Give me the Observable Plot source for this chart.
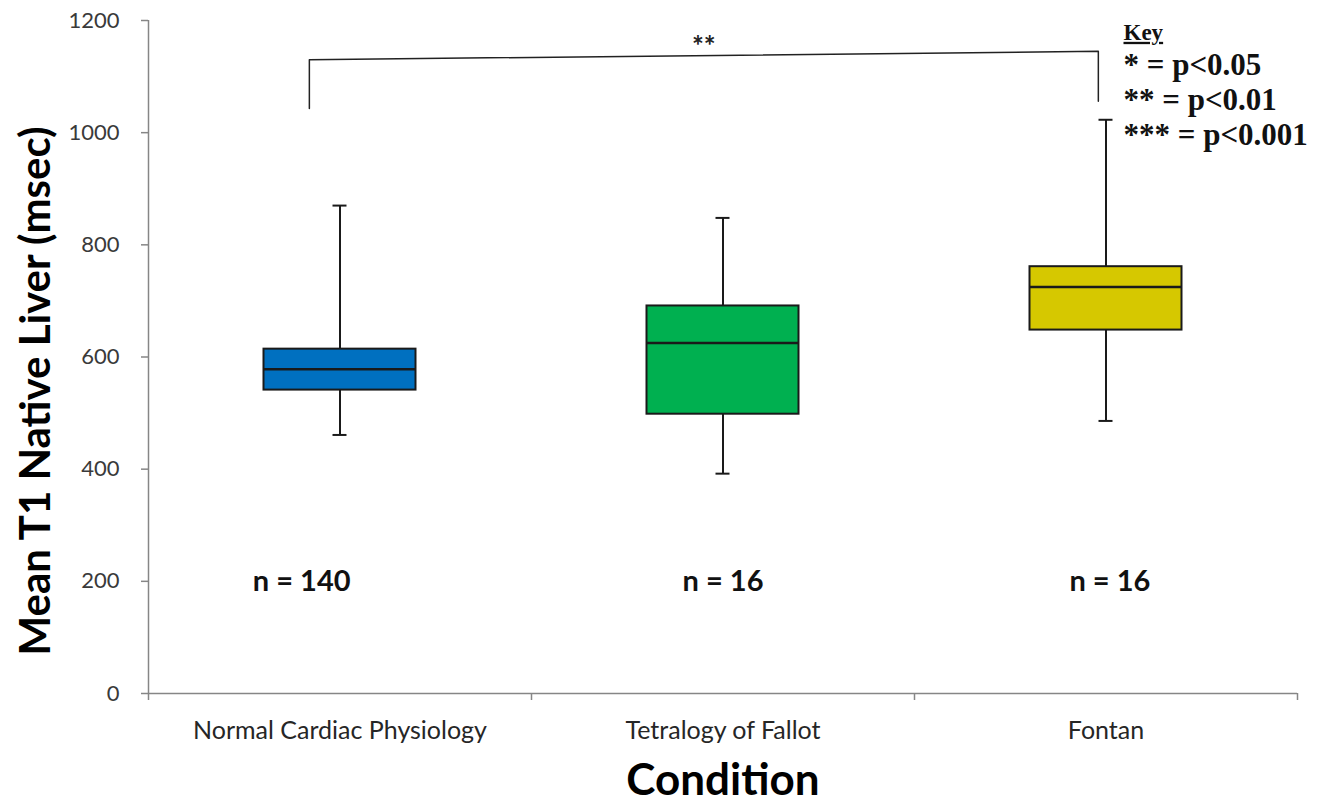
<!DOCTYPE html>
<html>
<head>
<meta charset="utf-8">
<script src="https://cdn.jsdelivr.net/npm/d3@7"></script>
<script src="https://cdn.jsdelivr.net/npm/@observablehq/plot@0.6"></script>
<style>
  html, body { margin: 0; padding: 0; background: #fff; }
  #chart { width: 1329px; height: 806px; }
  svg { font-family: Lato, "Open Sans", sans-serif; }
</style>
</head>
<body>
<div id="chart"></div>
<script>
// ---- data ----
const categories = ["Normal Cardiac Physiology", "Tetralogy of Fallot", "Fontan"];
const whiskerLow  = [461, 392, 486];
const q1          = [541, 498, 648];
const median      = [578, 625, 725];
const q3          = [614, 691, 761];
const whiskerHigh = [870, 848, 1023];
const nLabels     = ["n = 140", "n = 16", "n = 16"];
const boxColors   = ["#0070C0", "#00B050", "#D6C800"];
const yTicks      = [0, 200, 400, 600, 800, 1000, 1200];
const sigLabel    = "**";
const keyTitle    = "Key";
const keyLines    = ["* = p<0.05", "** = p<0.01", "*** = p<0.001"];
// significance bracket between Normal and Fontan (x in category units, y in msec)
const bracketX    = [0.42, 0.42, 2.48, 2.48];
const bracketY    = [1043, 1130, 1145, 1056];

const rows = categories.map((c, i) => ({
  cat: c, i, lo: whiskerLow[i], q1: q1[i], med: median[i], q3: q3[i], hi: whiskerHigh[i],
  n: nLabels[i], fill: boxColors[i]
}));
const bracket = bracketX.map((x, i) => ({x, y: bracketY[i]}));

const W = 1329, H = 806;
const mL = 148, mR = 32, mT = 20, mB = 113;
const bandPx = (W - mL - mR) / categories.length;
const halfBox = 76 / bandPx;   // half box width in category units
const halfCap = 7 / bandPx;    // half cap width
const nShift = [-0.1, 0, 0.01];

const ink = "#1a1a1a";
const axisGray = "#868686";

const plot = Plot.plot({
  width: W, height: H,
  marginLeft: mL, marginRight: mR, marginTop: mT, marginBottom: mB,
  x: {type: "linear", domain: [0, categories.length], axis: null},
  y: {domain: [0, 1200], axis: null},
  marks: [
    // axes lines
    Plot.ruleY([0], {stroke: axisGray, strokeWidth: 1.5}),
    Plot.ruleX([0], {stroke: axisGray, strokeWidth: 1.5}),
    // y ticks & labels
    Plot.axisY({ticks: yTicks, tickSize: 7, tickFormat: () => "", stroke: axisGray, strokeWidth: 1.5, label: null}),
    Plot.axisY({ticks: yTicks, tickSize: 0, tickPadding: 29, fontSize: 22, fill: "#3a3a3a",
      tickFormat: d3.format("d"), label: null}),
    // x boundary ticks & category labels
    Plot.axisX({ticks: d3.range(categories.length + 1), tickSize: 7, tickFormat: () => "", stroke: axisGray, strokeWidth: 1.5, label: null}),
    Plot.axisX({ticks: categories.map((c, i) => i + 0.5), tickSize: 0, tickPadding: 28, fontSize: 25,
      tickFormat: v => categories[Math.floor(v)], fill: "#262626", label: null}),
    // whiskers
    Plot.ruleX(rows, {x: d => d.i + 0.5, y1: "lo", y2: "hi", stroke: ink, strokeWidth: 2}),
    Plot.ruleY(rows, {y: "hi", x1: d => d.i + 0.5 - halfCap, x2: d => d.i + 0.5 + halfCap, stroke: ink, strokeWidth: 2}),
    Plot.ruleY(rows, {y: "lo", x1: d => d.i + 0.5 - halfCap, x2: d => d.i + 0.5 + halfCap, stroke: ink, strokeWidth: 2}),
    // boxes
    Plot.rect(rows, {x1: d => d.i + 0.5 - halfBox, x2: d => d.i + 0.5 + halfBox, y1: "q1", y2: "q3",
      fill: "fill", stroke: ink, strokeWidth: 2}),
    Plot.ruleY(rows, {y: "med", x1: d => d.i + 0.5 - halfBox, x2: d => d.i + 0.5 + halfBox, stroke: ink, strokeWidth: 2.5}),
    // n labels
    Plot.text(rows, {x: d => d.i + 0.5 + nShift[d.i], y: 200, text: "n", fontSize: 29, fontWeight: "bold", fill: "#111"}),
    // significance bracket
    Plot.line(bracket, {x: "x", y: "y", stroke: "#222", strokeWidth: 1.5}),
    Plot.text([sigLabel], {x: (bracketX[1] + bracketX[2]) / 2, y: (bracketY[1] + bracketY[2]) / 2, dy: -9,
      fontSize: 28, fontWeight: "bold", fill: "#222"}),
    // key
    Plot.text([keyTitle], {frameAnchor: "top-right", textAnchor: "start", dx: -174, dy: 3,
      fontFamily: "Liberation Serif", fontWeight: "bold", fontSize: 23, fill: "#111"}),
    Plot.text([keyLines.join("\n")], {frameAnchor: "top-right", textAnchor: "start", lineAnchor: "top",
      dx: -174, dy: 30, lineHeight: 1.13,
      fontFamily: "Liberation Serif", fontWeight: "bold", fontSize: 31, fill: "#111"}),
    // axis titles
    Plot.text(["Mean T1 Native Liver (msec)"], {frameAnchor: "left", textAnchor: "middle", rotate: -90, dx: -112, dy: 34,
      fontSize: 42, fontWeight: "bold", fill: "#000"}),
    Plot.text(["Condition"], {frameAnchor: "bottom", dy: 101, fontSize: 44, fontWeight: "bold", fill: "#000"})
  ]
});

d3.select(plot).selectAll("text").filter(function() { return this.textContent === keyTitle; })
  .style("text-decoration", "underline");

document.getElementById("chart").appendChild(plot);
</script>
</body>
</html>
